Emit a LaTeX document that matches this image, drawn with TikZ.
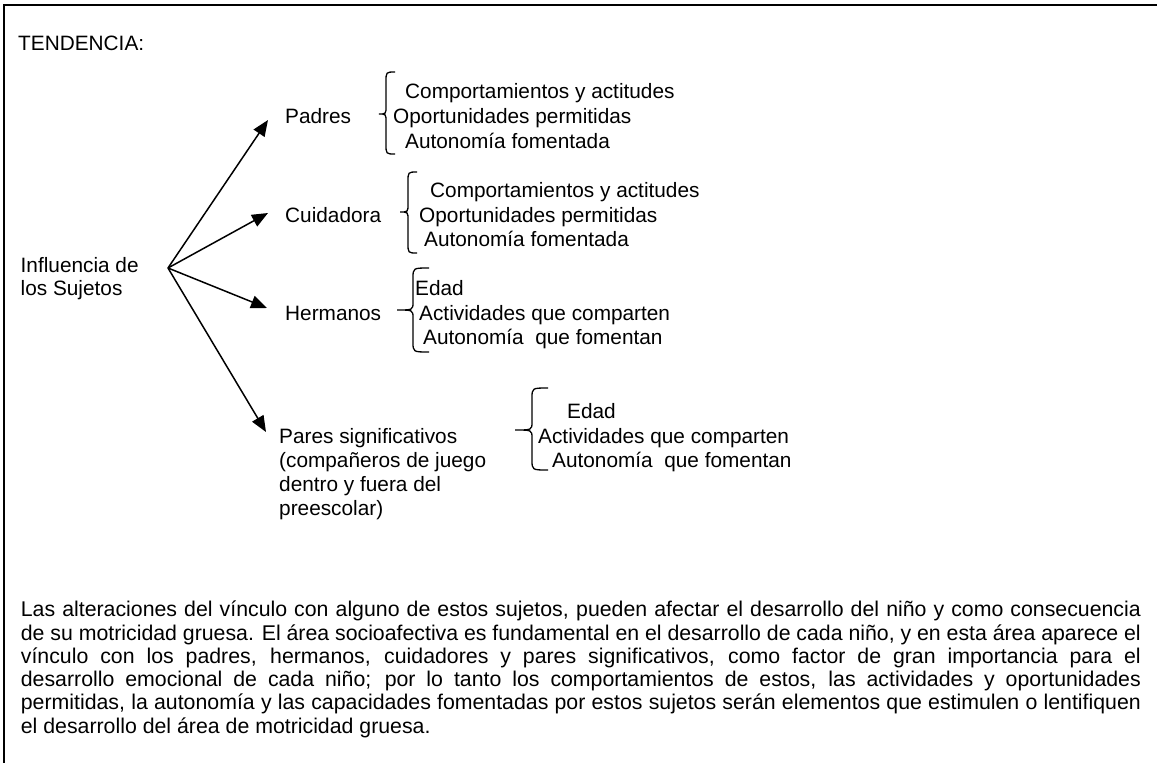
\documentclass[tikz,border=0pt]{standalone}
\usepackage{fontspec}
\setmainfont{Liberation Sans}
\usetikzlibrary{arrows.meta}
\newcommand\wbrace[6]{%
  \draw[brc] (#3,#4) .. controls (#2,#4) .. (#2,#4+10) -- (#2,#5-8)
    .. controls (#2,#5) .. (#1,#5) .. controls (#2,#5) .. (#2,#5+8)
    -- (#2,#6-10) .. controls (#2,#6) .. (#3,#6);}
\tikzset{
  txt/.style={inner sep=0pt, anchor=base west, font=\fontsize{20.8}{24}\selectfont},
  ptxt/.style={inner sep=0pt, anchor=base west, font=\fontsize{21.3}{23.3}\selectfont},
  arr/.style={line width=1.5pt, -{Triangle[length=16pt,width=13pt]}},
  brc/.style={line width=1.3pt},
  frame/.style={line width=2pt}
}
\begin{document}
\begin{tikzpicture}[x=1pt,y=-1pt]
\useasboundingbox (0,0) rectangle (1157,763);
\draw[frame] (4.3,763) -- (4.3,5.3) -- (1157,5.3);

\node[txt] (tend) at (18,50) {TENDENCIA:};
\node[txt] (infl1) at (20.5,272) {Influencia de};
\node[txt] (infl2) at (20.5,295) {los Sujetos};

\coordinate (O) at (168,268);
\coordinate (tP) at (268,120);
\coordinate (tC) at (268,213);
\coordinate (tH) at (267,308);
\coordinate (tS) at (266,432);
\draw[arr] (O) -- (tP);
\draw[arr] (O) -- (tC);
\draw[arr] (O) -- (tH);
\draw[arr] (O) -- (tS);

% Padres
\node[txt] (padres) at (285,123) {Padres};
\wbrace{379}{386}{395}{72}{114}{154}
\node[txt] (pa1) at (405,98) {Comportamientos y actitudes};
\node[txt] (pa2) at (393,123) {Oportunidades permitidas};
\node[txt] (pa3) at (405,148) {Autonomía fomentada};

% Cuidadora
\node[txt] (cuid) at (285,222) {Cuidadora};
\wbrace{400}{408}{417}{172}{212}{253}
\node[txt] (cu1) at (430,197) {Comportamientos y actitudes};
\node[txt] (cu2) at (419,222) {Oportunidades permitidas};
\node[txt] (cu3) at (424,246) {Autonomía fomentada};

% Hermanos
\node[txt] (herm) at (285,320) {Hermanos};
\wbrace{397}{413}{429}{268}{310}{352}
\node[txt] (he1) at (415,295) {Edad};
\node[txt] (he2) at (419,320) {Actividades que comparten};
\node[txt] (he3) at (423,344) {Autonomía\ \ que fomentan};

% Pares
\node[txt] (pr1) at (279,443) {Pares significativos};
\node[txt] (pr2) at (279,467) {(compañeros de juego};
\node[txt] (pr3) at (279,491) {dentro y fuera del};
\node[txt] (pr4) at (279,515) {preescolar)};
\wbrace{515}{532}{548}{388}{430}{470}
\node[txt] (ps1) at (567,418) {Edad};
\node[txt] (ps2) at (538,443) {Actividades que comparten};
\node[txt] (ps3) at (552,467) {Autonomía\ \ que fomentan};

% Paragraph
\node[ptxt] (p1) at (20.7,616.7) {\makebox[1120pt][s]{Las alteraciones del vínculo con alguno de estos sujetos, pueden afectar el desarrollo del niño y como consecuencia}};
\node[ptxt] (p2) at (20.7,640) {\makebox[1120pt][s]{de su motricidad gruesa. El área socioafectiva es fundamental en el desarrollo de cada niño, y en esta área aparece el}};
\node[ptxt] (p3) at (20.7,663.3) {\makebox[1120pt][s]{vínculo con los padres, hermanos, cuidadores y pares significativos, como factor de gran importancia para el}};
\node[ptxt] (p4) at (20.7,686.6) {\makebox[1120pt][s]{desarrollo emocional de cada niño; por lo tanto los comportamientos de estos, las actividades y oportunidades}};
\node[ptxt] (p5) at (20.7,709.9) {\makebox[1120pt][s]{permitidas, la autonomía y las capacidades fomentadas por estos sujetos serán elementos que estimulen o lentifiquen}};
\node[ptxt] (p6) at (20.7,733.2) {el desarrollo del área de motricidad gruesa.};
\end{tikzpicture}
\end{document}
